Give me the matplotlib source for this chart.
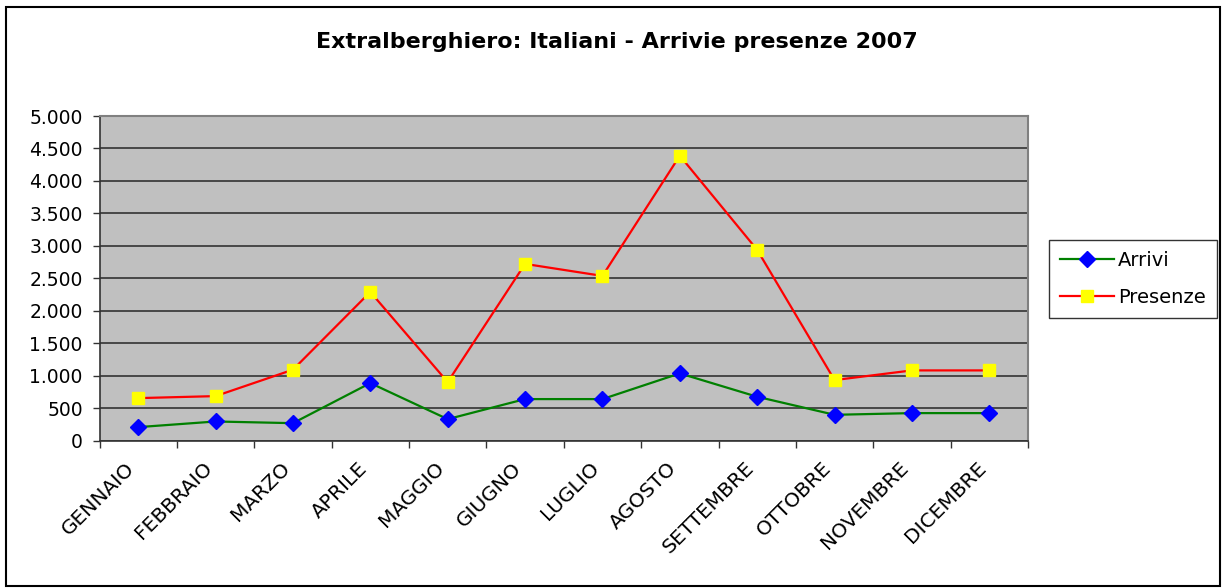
import matplotlib
matplotlib.use("Agg")
import matplotlib.pyplot as plt
from matplotlib.ticker import FuncFormatter, MultipleLocator
from matplotlib.patches import Rectangle
from matplotlib.transforms import ScaledTranslation

plt.rcParams['font.family'] = ['DejaVu Sans']

months = ["GENNAIO", "FEBBRAIO", "MARZO", "APRILE", "MAGGIO", "GIUGNO",
          "LUGLIO", "AGOSTO", "SETTEMBRE", "OTTOBRE", "NOVEMBRE", "DICEMBRE"]
arrivi = [206, 293, 267, 885, 329, 638, 638, 1034, 674, 396, 422, 422]
presenze = [653, 684, 1091, 2289, 900, 2721, 2536, 4388, 2937, 931, 1080, 1080]
title = "Extralberghiero: Italiani - Arrivie presenze 2007"

W, H = 1223, 588
fig = plt.figure(figsize=(W / 100, H / 100), dpi=100)
ax = fig.add_axes([99.5 / W, 1 - 440.5 / H, (1028 - 99.5) / W, (440.5 - 116) / H])
ax.set_facecolor('#C0C0C0')

x = list(range(len(months)))
ax.plot(x, arrivi, color='#008000', lw=1.6, marker='D', markersize=8.5,
        markerfacecolor='#0000FF', markeredgecolor='#0000FF', label='Arrivi', zorder=3)
ax.plot(x, presenze, color='#FF0000', lw=1.6, marker='s', markersize=8,
        markerfacecolor='#FFFF00', markeredgecolor='#FFFF00', label='Presenze', zorder=3)

ax.set_xlim(-0.5, len(months) - 0.5)
ax.set_ylim(0, 5000)
ax.yaxis.set_major_locator(MultipleLocator(500))
ax.yaxis.set_major_formatter(FuncFormatter(lambda v, p: f"{int(v):,}".replace(",", ".")))
ax.grid(axis='y', color='#333333', lw=1.2, zorder=1)
ax.set_axisbelow(True)

ax.set_xticks([i - 0.5 for i in range(len(months) + 1)], minor=False)
ax.set_xticklabels([])
ax.set_xticks(x, minor=True)
ax.set_xticklabels(months, minor=True, rotation=45, ha='right', va='top',
                   rotation_mode='anchor', fontsize=14.5)
ax.tick_params(axis='x', which='minor', length=0, pad=13)
ax.tick_params(axis='x', which='major', length=5, width=1, color='#333333')
ax.tick_params(axis='y', length=5, width=1, color='#333333', labelsize=13.5, pad=7)
shift = ScaledTranslation(-13 / 100, 0, fig.dpi_scale_trans)
for lab in ax.get_xticklabels(minor=True):
    lab.set_transform(lab.get_transform() + shift)

for s in ['top', 'right']:
    ax.spines[s].set_color('#808080')
    ax.spines[s].set_linewidth(1.5)
for s in ['left', 'bottom']:
    ax.spines[s].set_color('#333333')
    ax.spines[s].set_linewidth(1.2)

fig.text(617 / W, 1 - 48.5 / H, title, ha='center', va='baseline', fontsize=16, fontweight='bold')

leg = fig.legend(loc='upper left', bbox_to_anchor=(1049 / W, 1 - 240 / H), fontsize=14,
                 frameon=True, fancybox=False, edgecolor='black', handlelength=2.75,
                 borderpad=0.57, labelspacing=0.93, handletextpad=0.22, borderaxespad=0)
leg.get_frame().set_linewidth(1.0)

fig.patches.append(Rectangle((6 / W, 1 - 586 / H), (1220 - 6) / W, (586 - 6.5) / H,
                             transform=fig.transFigure, fill=False, edgecolor='black', lw=1.5))

fig.savefig('out.png', dpi=100)
